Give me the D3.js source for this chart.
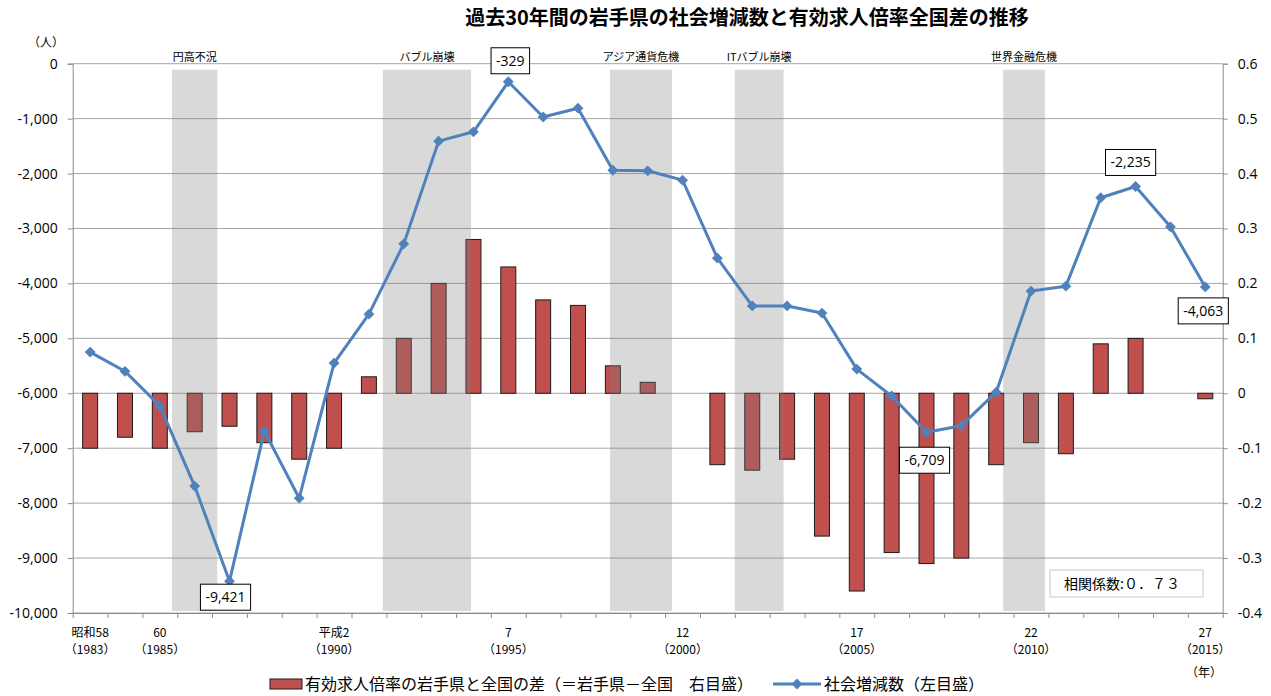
<!DOCTYPE html>
<html>
<head>
<meta charset="utf-8">
<script src="https://cdn.jsdelivr.net/npm/d3@7"></script>
<style>
  body { margin: 0; background: #fff; }
  svg { display: block; font-family: "Noto Sans CJK JP", "Noto Sans", sans-serif; }
</style>
</head>
<body>
<svg id="chart" width="1271" height="696"></svg>
<script>
// ---- data ----
const years = d3.range(1983, 2016);
// 社会増減数（人）左目盛
const socialChange = [
  -5250, -5600, -6230, -7690, -9421, -6690, -7910, -5450, -4560, -3280,
  -1410, -1240, -329, -970, -810, -1940, -1950, -2120, -3540, -4410,
  -4410, -4540, -5560, -6050, -6709, -6590, -5980, -4140, -4050, -2440,
  -2235, -2970, -4063
];
// 有効求人倍率の岩手県と全国の差 右目盛
const ratioDiff = [
  -0.10, -0.08, -0.10, -0.07, -0.06, -0.09, -0.12, -0.10, 0.03, 0.10,
  0.20, 0.28, 0.23, 0.17, 0.16, 0.05, 0.02, 0, -0.13, -0.14,
  -0.12, -0.26, -0.36, -0.29, -0.31, -0.30, -0.13, -0.09, -0.11, 0.09,
  0.10, 0, -0.01
];
const xLabelYears = [1983, 1985, 1990, 1995, 2000, 2005, 2010, 2015];
const xLabelEra = ['昭和58', '60', '平成2', '7', '12', '17', '22', '27'];
// 景気後退期の網掛け（年, 連続値）
const periods = [
  { name: '円高不況', from: 1985.35, to: 1986.65 },
  { name: 'バブル崩壊', from: 1991.4, to: 1993.93 },
  { name: 'アジア通貨危機', from: 1997.92, to: 1999.7 },
  { name: 'ITバブル崩壊', from: 2001.5, to: 2002.9 },
  { name: '世界金融危機', from: 2009.2, to: 2010.4 }
];
// ラベル付きの点 (dx, dy はボックス中心のずれ)
const labeled = [
  { year: 1987, dx: -4, dy: 16 },
  { year: 1995, dx: 2, dy: -21 },
  { year: 2007, dx: -2, dy: 28 },
  { year: 2013, dx: -5, dy: -24 },
  { year: 2015, dx: -2, dy: 24 }
];

const svg = d3.select('#chart');
const pLeft = 72.7, pRight = 1222.7, pTop = 63.7, pBottom = 613;

const x = d3.scaleBand().domain(years).range([pLeft, pRight])
  .paddingInner(0.57).paddingOuter(0.285);
const xc = d3.scaleLinear().domain([1982.5, 2015.5]).range([pLeft, pRight]);
const yL = d3.scaleLinear().domain([-10000, 0]).range([pBottom, pTop]);
const yR = d3.scaleLinear().domain([-0.4, 0.6]).range([pBottom, pTop]);

const loc = d3.formatLocale({ decimal: '.', thousands: ',', grouping: [3], currency: ['', ''], minus: '-' });
const fmtL = loc.format(',');
const fmtR = loc.format('.1f');

// title
svg.append('text')
  .attr('x', 747).attr('y', 25)
  .attr('text-anchor', 'middle')
  .style('font-size', '20px').style('font-weight', 'bold')
  .text('過去30年間の岩手県の社会増減数と有効求人倍率全国差の推移');

// gridlines
const ticksL = d3.range(-10000, 1, 1000);
svg.append('g').selectAll('line').data(ticksL).join('line')
  .attr('x1', pLeft).attr('x2', pRight)
  .attr('y1', d => yL(d)).attr('y2', d => yL(d))
  .attr('stroke', '#a6a6a6').attr('stroke-width', 1);

// bars
svg.append('g').selectAll('rect').data(years.filter((d, i) => ratioDiff[i] !== 0)).join('rect')
  .attr('x', d => x(d))
  .attr('width', x.bandwidth())
  .attr('y', d => yR(Math.max(0, ratioDiff[d - 1983])))
  .attr('height', d => Math.abs(yR(ratioDiff[d - 1983]) - yR(0)))
  .attr('fill', '#c0504d')
  .attr('stroke', '#1a1a1a').attr('stroke-width', 1);

// shading
const shade = svg.append('g');
shade.selectAll('rect').data(periods).join('rect')
  .attr('x', d => xc(d.from))
  .attr('width', d => xc(d.to) - xc(d.from))
  .attr('y', pTop + 6).attr('height', pBottom - pTop - 8)
  .attr('fill', '#808080').attr('fill-opacity', 0.3);
shade.selectAll('text').data(periods).join('text')
  .attr('x', d => (xc(d.from) + xc(d.to)) / 2)
  .attr('y', pTop - 3)
  .attr('text-anchor', 'middle')
  .style('font-size', '11px')
  .text(d => d.name);

// axes
svg.append('g')
  .attr('transform', `translate(${pLeft},0)`)
  .call(d3.axisLeft(yL).tickValues(ticksL).tickFormat(fmtL).tickSize(5).tickPadding(10))
  .call(g => g.selectAll('text').style('font-size', '14px').style('font-family', '"Open Sans", sans-serif').attr('fill', '#000'));
svg.append('g')
  .attr('transform', `translate(${pRight},0)`)
  .call(d3.axisRight(yR).tickValues(d3.range(-4, 7).map(d => d / 10)).tickFormat(d => Math.abs(d) < 1e-9 ? '0' : fmtR(d)).tickSize(5).tickPadding(10))
  .call(g => g.selectAll('text').style('font-size', '14px').style('font-family', '"Open Sans", sans-serif').attr('fill', '#000'));
svg.append('g')
  .attr('transform', `translate(0,${pBottom})`)
  .call(d3.axisBottom(xc).tickValues(d3.range(1982.5, 2016, 1)).tickFormat('').tickSize(5).tickSizeOuter(0));
svg.selectAll('.domain, .tick line').attr('stroke', '#8c8c8c');

// x labels
const xl = svg.append('g').selectAll('g').data(xLabelYears).join('g')
  .attr('transform', d => `translate(${x(d) + x.bandwidth() / 2},0)`)
  .style('font-size', '12px').attr('text-anchor', 'middle');
xl.append('text').attr('y', 637).text((d, i) => xLabelEra[i]);
xl.append('text').attr('y', 654).text(d => `（${d}）`);
svg.append('text').attr('x', 1204).attr('y', 677).attr('text-anchor', 'middle')
  .style('font-size', '12px').text('（年）');
svg.append('text').attr('x', 46).attr('y', 47).attr('text-anchor', 'middle')
  .style('font-size', '12px').text('（人）');

// line
const line = d3.line()
  .x((d, i) => x(years[i]) + x.bandwidth() / 2)
  .y(d => yL(d));
svg.append('path').datum(socialChange)
  .attr('d', line)
  .attr('fill', 'none').attr('stroke', '#4f81bd').attr('stroke-width', 3)
  .attr('stroke-linejoin', 'round');
const diamond = d3.symbol().type(d3.symbolDiamond2).size(75);
svg.append('g').selectAll('path').data(socialChange).join('path')
  .attr('transform', (d, i) => `translate(${x(years[i]) + x.bandwidth() / 2},${yL(d)})`)
  .attr('d', diamond)
  .attr('fill', '#4f81bd');

// data labels
const lab = svg.append('g').selectAll('g').data(labeled).join('g')
  .attr('transform', d => `translate(${x(d.year) + x.bandwidth() / 2 + d.dx},${yL(socialChange[d.year - 1983]) + d.dy})`);
lab.append('rect')
  .attr('x', -27).attr('y', -13).attr('width', 54).attr('height', 26)
  .attr('fill', '#fff').attr('stroke', '#000').attr('stroke-width', 1);
lab.append('text')
  .attr('text-anchor', 'middle').attr('dy', '0.35em')
  .style('font-size', '14px').style('font-family', '"Open Sans", sans-serif')
  .text(d => fmtL(socialChange[d.year - 1983]));
lab.select('rect').attr('width', function () {
  const w = this.parentNode.querySelector('text').getComputedTextLength() + 10;
  d3.select(this).attr('x', -w / 2);
  return w;
});

// correlation box
svg.append('rect').attr('x', 1050).attr('y', 570).attr('width', 153).attr('height', 27)
  .attr('fill', '#fff').attr('stroke', '#c8c8c8');
svg.append('text').attr('x', 1064).attr('y', 589)
  .style('font-size', '14px').text('相関係数:０．７３');

// legend
const lg = svg.append('g').style('font-size', '16px');
lg.append('rect').attr('x', 270).attr('y', 679).attr('width', 32).attr('height', 10)
  .attr('fill', '#c0504d').attr('stroke', '#1a1a1a');
lg.append('text').attr('x', 305).attr('y', 690).text('有効求人倍率の岩手県と全国の差（＝岩手県－全国　右目盛）');
lg.append('line').attr('x1', 773).attr('x2', 821).attr('y1', 684).attr('y2', 684)
  .attr('stroke', '#4f81bd').attr('stroke-width', 3);
lg.append('path').attr('transform', 'translate(797,684)').attr('d', diamond).attr('fill', '#4f81bd');
lg.append('text').attr('x', 824).attr('y', 690).text('社会増減数（左目盛）');
</script>
</body>
</html>
